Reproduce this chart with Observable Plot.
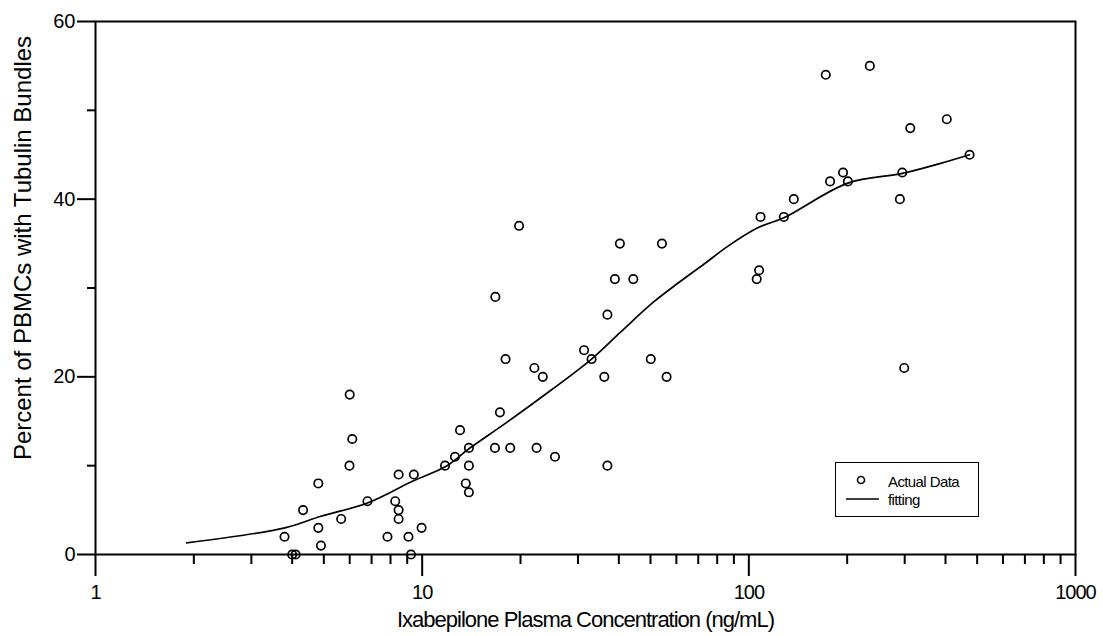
<!DOCTYPE html>
<html>
<head>
<meta charset="utf-8">
<script src="https://cdn.jsdelivr.net/npm/d3@7"></script>
<script src="https://cdn.jsdelivr.net/npm/@observablehq/plot@0.6"></script>
<style>
  html, body { margin: 0; padding: 0; background: #fff; }
  #chart { position: relative; width: 1103px; height: 636px; font-family: "Liberation Sans", Arial, sans-serif; }
  #legend {
    position: absolute; left: 835px; top: 462px; width: 144px; height: 55px;
    border: 1.5px solid #000; box-sizing: border-box; background: #fff;
  }
  #legend svg { position: absolute; left: 0; top: 0; }
  #legend .lab { position: absolute; left: 52px; font-size: 15px; letter-spacing: -0.6px; color: #000; line-height: 1; }
</style>
</head>
<body>
<div id="chart"></div>
<script>
// Ixabepilone plasma concentration (ng/mL) and percent of PBMCs with tubulin bundles
const concentration = [
  3.79, 4.0, 4.1, 4.32, 4.81, 4.81, 4.9, 5.65, 6.0, 6.11, 5.99, 6.8, 7.83, 8.27, 8.47, 8.47, 8.47,
  9.08, 9.24, 9.43, 9.96, 11.75, 12.6, 13.06, 13.9, 13.9, 13.6, 13.9,
  16.75, 17.3, 16.7, 18.0, 18.6, 19.8, 22.05, 23.4, 22.4, 25.5, 31.3, 33.0, 36.1, 36.9, 36.9,
  38.9, 40.3, 44.3, 50.1, 54.2, 56.0,
  105.7, 107.5, 108.6, 128, 137.3, 172, 177.3, 194.3, 201, 234.6, 290, 295, 299, 312, 403.6, 474
];
const percentBundled = [
  2, 0, 0, 5, 8, 3, 1, 4, 18, 13, 10, 6, 2, 6, 5, 4, 9,
  2, 0, 9, 3, 10, 11, 14, 12, 10, 8, 7,
  29, 16, 12, 22, 12, 37, 21, 20, 12, 11, 23, 22, 20, 27, 10,
  31, 35, 31, 22, 35, 20,
  31, 32, 38, 38, 40, 54, 42, 43, 42, 55, 40, 43, 21, 48, 49, 45
];

// Fitted concentration-response curve
const fitConcentration = [1.9, 3.8, 4.9, 6.8, 9.4, 11.8, 13.9, 18.2, 24.6, 33, 40.4, 51, 61.5, 74.2, 85.5, 106.8, 128, 201, 295, 384, 474];
const fitPercent = [1.3, 3.0, 4.3, 5.8, 8.3, 9.9, 11.9, 14.9, 18.4, 22, 25, 28.4, 30.7, 32.9, 34.6, 36.8, 37.9, 41.8, 42.9, 44, 45];

// Axis ticks
const xMajorTicks = [1, 10, 100, 1000];
const xMinorTicks = [2, 3, 4, 5, 6, 7, 8, 9, 20, 30, 40, 50, 60, 70, 80, 90, 200, 300, 400, 500, 600, 700, 800, 900];
const yMajorTicks = [0, 20, 40, 60];
const yMinorTicks = [10, 30, 50];

const xTitle = "Ixabepilone Plasma Concentration (ng/mL)";
const yTitle = "Percent of PBMCs with Tubulin Bundles";

const points = concentration.map((c, i) => ({c, p: percentBundled[i]}));
const fit = fitConcentration.map((c, i) => ({c, p: fitPercent[i]}));

const plot = Plot.plot({
  width: 1103,
  height: 636,
  marginLeft: 95,
  marginRight: 28,
  marginTop: 21,
  marginBottom: 82,
  style: {fontFamily: "'Liberation Sans', Arial, sans-serif", color: "#000", background: "#fff", overflow: "visible"},
  x: {type: "log", domain: [1, 1000]},
  y: {domain: [0, 60]},
  marks: [
    Plot.frame({stroke: "#000", strokeWidth: 2}),
    Plot.axisX(xMajorTicks, {tickSize: 22, tickPadding: 8, tickFormat: d => String(d), fontSize: 20, strokeWidth: 2, label: null}),
    Plot.axisX(xMinorTicks, {tickSize: 10, tickFormat: () => "", strokeWidth: 2, label: null}),
    Plot.axisY(yMajorTicks, {tickSize: 18, tickPadding: 2, fontSize: 20, strokeWidth: 2, label: null}),
    Plot.axisY(yMinorTicks, {tickSize: 8, tickFormat: () => "", strokeWidth: 2, label: null}),
    Plot.line(fit, {x: "c", y: "p", curve: "catmull-rom", stroke: "#000", strokeWidth: 1.7}),
    Plot.dot(points, {x: "c", y: "p", r: 4.2, stroke: "#000", strokeWidth: 1.7, fill: "none"}),
    Plot.text([xTitle], {frameAnchor: "bottom", textAnchor: "middle", lineAnchor: "middle", dy: 65, fontSize: 22, text: d => d, fill: "#000"}),
    Plot.text([yTitle], {frameAnchor: "left", textAnchor: "middle", lineAnchor: "middle", dx: -72, dy: -40, rotate: -90, fontSize: 24, text: d => d, fill: "#000"})
  ]
});
plot.querySelectorAll("text").forEach(t => {
  if (t.textContent === xTitle) t.setAttribute("letter-spacing", "-1");
});
plot.querySelectorAll("g[aria-label='x-axis tick label'] text").forEach(t => t.setAttribute("letter-spacing", "-1"));

const chart = document.getElementById("chart");
chart.appendChild(plot);

// Legend box inside the plot area
const legend = document.createElement("div");
legend.id = "legend";
legend.innerHTML = `
  <svg width="144" height="55">
    <circle cx="25" cy="17" r="3.5" fill="none" stroke="#000" stroke-width="1.6"></circle>
    <line x1="10" x2="43" y1="36" y2="36" stroke="#000" stroke-width="1.6"></line>
  </svg>
  <div class="lab" style="top:11px">Actual Data</div>
  <div class="lab" style="top:29px">fitting</div>`;
chart.appendChild(legend);
</script>
</body>
</html>
